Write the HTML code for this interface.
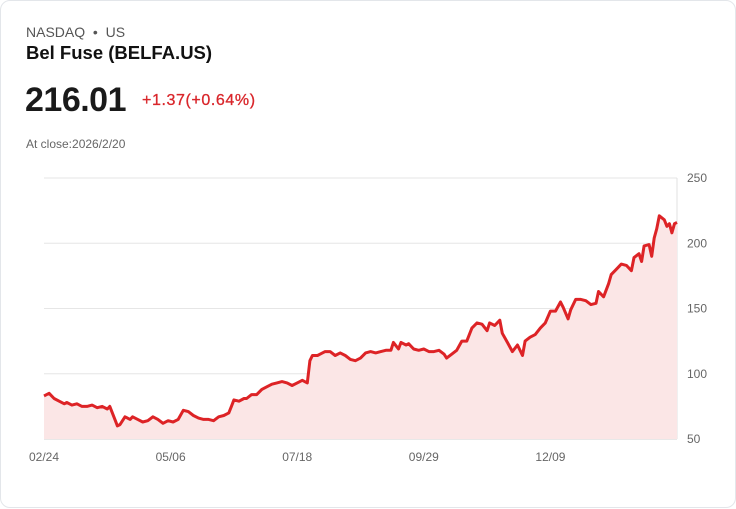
<!DOCTYPE html>
<html><head><meta charset="utf-8"><style>
body{margin:0;width:736px;height:508px;background:#fff;font-family:"Liberation Sans",sans-serif;overflow:hidden}
.card{position:absolute;left:0;top:0;width:734px;height:506px;border:1px solid #e3e6ea;border-radius:10px;background:#fff}
.t{position:absolute;white-space:nowrap}
</style></head><body>
<div class="card">
<div class="t" style="left:25px;top:23px;font-size:14px;color:#555">NASDAQ &nbsp;•&nbsp; US</div>
<div class="t" style="left:25px;top:41px;font-size:18.5px;font-weight:bold;color:#111">Bel Fuse (BELFA.US)</div>
<div class="t" style="left:24px;top:80px;font-size:34px;font-weight:bold;color:#1a1a1a;letter-spacing:-0.5px">216.01</div>
<div class="t" style="left:141px;top:91px;font-size:16px;color:#d9262b;letter-spacing:0.6px;-webkit-text-stroke:0.3px #d9262b">+1.37(+0.64%)</div>
<div class="t" style="left:25px;top:136px;font-size:12px;color:#666">At close:2026/2/20</div>
<svg id="chart" width="736" height="508" style="position:absolute;left:0;top:0"></svg>
</div>
<script>
const yTicks=[50,100,150,200,250];
const xLabels=["02/24","05/06","07/18","09/29","12/09"];
const xLabelDays=[0,50,100,150,200];
const days=[0,2,4,6,8,9,11,13,15,17,19,21,23,25,26,28,29,30,32,34,35,37,39,41,43,45,47,49,51,53,55,57,59,61,63,65,67,69,71,73,74,75,77,79,80,82,84,86,88,90,92,94,96,98,100,102,104,105,106,108,109,111,113,115,117,119,121,123,125,127,129,131,133,135,137,138,140,141,143,144,146,148,150,152,154,156,158,159,161,163,165,167,169,171,173,175,176,178,180,181,183,185,187,189,190,192,194,196,198,200,202,204,205,207,208,210,212,214,216,218,219,221,223,224,226,228,230,232,233,235,236,237,239,240,241,242,243,245,246,247,248,249,250];
const prices=[83,85,81,79,77,78,76,77,75,75,76,74,75,73,75,65,60,61,67,65,67,65,63,64,67,65,62,64,63,65,72,71,68,66,65,65,64,67,68,70,75,80,79,81,81,84,84,88,90,92,93,94,93,91,93,95,93,110,114,114,115,117,117,114,116,114,111,110,112,116,117,116,117,118,118,124,119,124,122,123,119,118,119,117,117,118,115,112,115,118,125,125,135,139,138,133,139,137,141,131,124,117,122,114,125,128,130,135,139,148,148,155,151,142,149,157,157,156,153,154,163,159,169,176,180,184,183,179,189,192,186,198,199,190,204,211,221,218,213,215,208,215,216.01];
const NS="http://www.w3.org/2000/svg";
const svg=document.getElementById('chart');
const x0=43,x1=676,yTop=177,yBot=438,vMin=50,vMax=250,dMax=250;
const xs=d=>x0+(x1-x0)*d/dMax;
const ys=v=>yBot-(v-vMin)/(vMax-vMin)*(yBot-yTop);
function mk(t,a){const e=document.createElementNS(NS,t);for(const k in a)e.setAttribute(k,a[k]);svg.appendChild(e);return e;}
yTicks.forEach(v=>{
  const g=mk('line',{x1:x0,x2:x1,y1:ys(v),y2:ys(v),stroke:v===50?'#d0d0d0':'#e6e6e6','stroke-width':1});
  
  
  const t=mk('text',{x:686,y:ys(v)+4,'font-size':12,fill:'#666','font-family':'Liberation Sans, sans-serif'});
  t.textContent=v;
  
  
});
const ax=mk('line',{x1:x1,x2:x1,y1:yTop,y2:yBot,stroke:'#e0e0e0','stroke-width':1});


xLabels.forEach((l,k)=>{
  const t=mk('text',{x:xs(xLabelDays[k])-15,y:460,'font-size':12,fill:'#666','font-family':'Liberation Sans, sans-serif'});
  t.textContent=l;
  
  
});
let d='';prices.forEach((v,i)=>{d+=(i?'L':'M')+xs(days[i]).toFixed(1)+','+ys(v).toFixed(1);});
const area=mk('path',{d:d+'L'+x1+','+yBot+'L'+x0+','+yBot+'Z',fill:'#fbe6e6'});


const line=mk('path',{d:d,fill:'none',stroke:'#dd2326','stroke-width':3,'stroke-linejoin':'round'});


</script>
</body></html>
